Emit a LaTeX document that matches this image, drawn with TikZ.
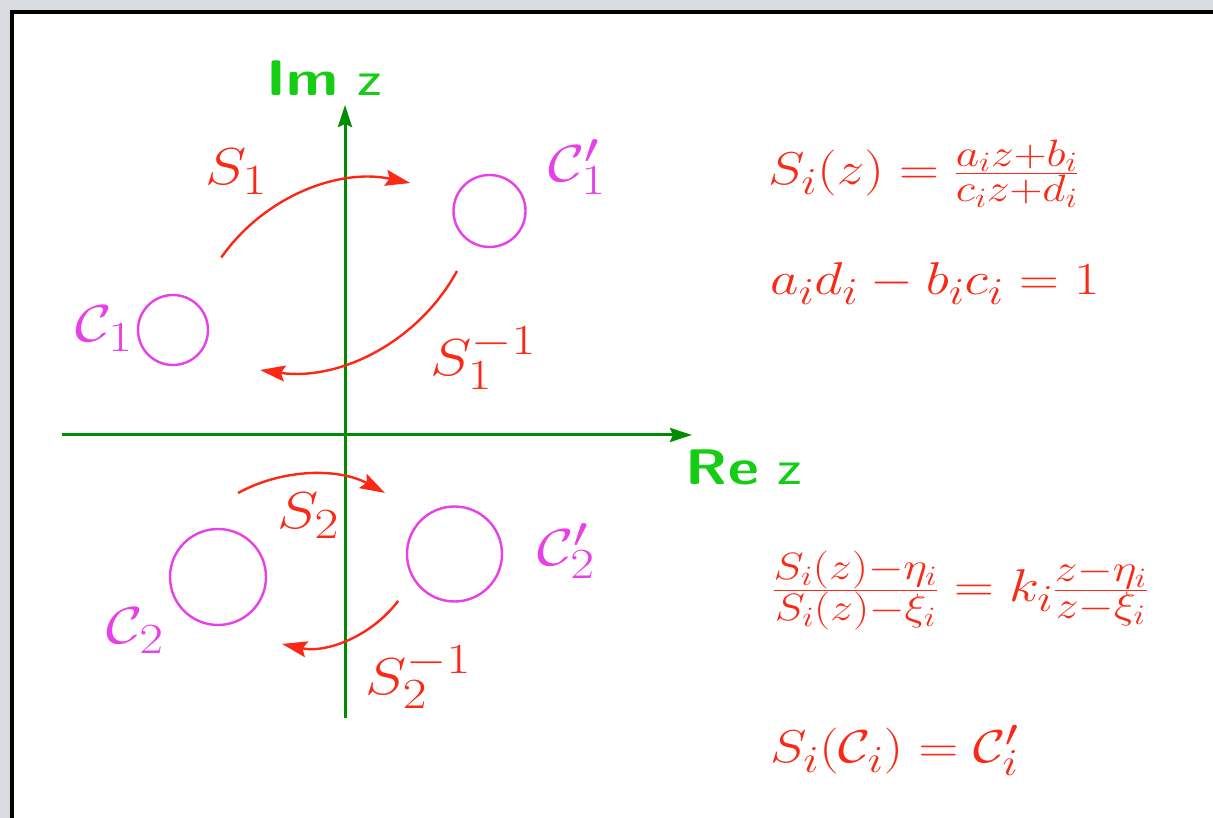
\RequirePackage{fix-cm}
\documentclass[tikz,border=0pt]{standalone}
\usepackage{fontspec}
\usepackage{amsmath}
\usepackage{graphicx}
\usetikzlibrary{arrows.meta}
\DeclareMathSizes{46}{46}{38}{28}
\DeclareMathSizes{52}{52}{43}{31}
\newcommand{\wide}[1]{\scalebox{1.2}[1]{#1}}
\definecolor{bggray}{RGB}{216,219,223}
\definecolor{axisgreen}{RGB}{0,140,0}
\definecolor{labgreen}{RGB}{20,205,20}
\definecolor{myred}{RGB}{250,40,20}
\definecolor{mymag}{RGB}{232,64,232}
\begin{document}
\begin{tikzpicture}[x=1pt,y=1pt,
  axisline/.style={draw=axisgreen, line width=3pt, -{Stealth[length=22pt,width=14pt,inset=3pt]}},
  maparrow/.style={draw=myred, line width=2.4pt, -{Stealth[length=25pt,width=16pt,inset=4pt]}},
  ring/.style={draw=mymag, line width=2.4pt, circle, inner sep=0pt},
  redlab/.style={text=myred, font=\fontsize{52}{62}\selectfont, inner sep=0pt},
  maglab/.style={text=mymag, font=\fontsize{52}{62}\selectfont, inner sep=0pt},
  axlab/.style={text=labgreen, font=\fontsize{50}{60}\selectfont\sffamily, inner sep=0pt},
  eqn/.style={text=myred, font=\fontsize{46}{56}\selectfont, inner sep=0pt, anchor=base west}]
\useasboundingbox (0,0) rectangle (1213,818);
\clip (0,0) rectangle (1213,818);
\fill[bggray] (0,0) rectangle (1213,818);
\draw[line width=4pt, fill=white] (12,-20) rectangle (1240,806);

% axes
\coordinate (xl) at (62,383);
\coordinate (xr) at (692,383);
\coordinate (yb) at (345,100);
\coordinate (yt) at (345,713);
\draw[axisline] (xl) -- (xr);
\draw[axisline] (yb) -- (yt);
\node[axlab] (imz) at (324,740) {\wide{\textbf{Im} z}};
\node[axlab] (rez) at (744,351) {\wide{\textbf{Re} z}};

% circles
\node[ring, minimum size=70pt] (c1) at (173,488) {};
\node[ring, minimum size=72pt] (c1p) at (489.5,607) {};
\node[ring, minimum size=96pt] (c2) at (218,241) {};
\node[ring, minimum size=95pt] (c2p) at (454.5,264) {};

% circle labels
\node[maglab] (lc1) at (104,489) {\wide{$\mathcal{C}_1$}};
\node[maglab] (lc1p) at (577,651) {\wide{$\mathcal{C}'_1$}};
\node[maglab] (lc2) at (135,187) {\wide{$\mathcal{C}_2$}};
\node[maglab] (lc2p) at (566,267) {\wide{$\mathcal{C}'_2$}};

% map arrows
\coordinate (a1) at (221.3,560.5);
\draw[maparrow] (a1) arc[start angle=145, end angle=78, radius=184];
\coordinate (a2) at (457,547);
\draw[maparrow] (a2) arc[start angle=-28.6, end angle=-98, radius=193.6];
\coordinate (a3) at ({311.5+153.9*cos(118.5)},{189.8+153.9*sin(118.5)});
\draw[maparrow] (a3) arc[start angle=118.5, end angle=61.5, radius=153.9];
\coordinate (a4) at ({306.5+114.8*cos(-37)},{286.2+114.8*sin(-37)});
\draw[maparrow] (a4) arc[start angle=-37, end angle=-102.3, radius=114.8];

% map labels
\node[redlab] (s1) at (236,646) {\wide{$S_1$}};
\node[redlab] (s1i) at (483,460) {\wide{$S_1^{-1}$}};
\node[redlab] (s2) at (308,302) {\wide{$S_2$}};
\node[redlab] (s2i) at (418,141) {\wide{$S_2^{-1}$}};

% equations
\node[eqn] (e1) at (768,633) {\wide{$S_i(z) = \frac{a_iz+b_i}{c_iz+d_i}$}};
\node[eqn] (e2) at (770,523) {\wide{$a_id_i - b_ic_i = 1$}};
\node[eqn] (e3) at (772,216) {\wide{$\frac{S_i(z)-\eta_i}{S_i(z)-\xi_i} = k_i\frac{z-\eta_i}{z-\xi_i}$}};
\node[eqn] (e4) at (770,55) {\wide{$S_i(\mathcal{C}_i) = \mathcal{C}'_i$}};
\end{tikzpicture}
\end{document}
